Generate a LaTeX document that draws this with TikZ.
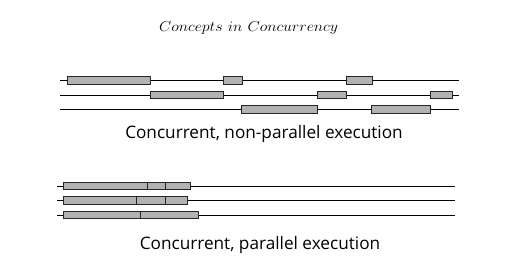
\documentclass[tikz,border=0pt]{standalone}
\usepackage{fontspec}
\usepackage{graphicx}
\newfontfamily\capfont{Open Sans}
\begin{document}
\begin{tikzpicture}[x=1pt,y=-1pt,
  track/.style={line width=0.8pt,black},
  blk/.style={draw=black!85,line width=0.8pt,fill=black!30,rectangle,inner sep=0pt,minimum height=7.6pt},
  caption/.style={font=\capfont\fontsize{17.2}{20}\selectfont,inner sep=0pt},
  title/.style={font=\fontsize{14.5}{16}\selectfont,inner sep=0pt}]
\useasboundingbox (0,0) rectangle (510,274);
\node[title] (t) at (248.7,27.5) {\scalebox{1.1}[1]{$Concepts\ in\ Concurrency$}};
% top section tracks
\coordinate (a1) at (60,80.3); \coordinate (a2) at (459,80.3);
\coordinate (b1) at (60,95); \coordinate (b2) at (459,95);
\coordinate (c1) at (60,109.3); \coordinate (c2) at (459,109.3);
\draw[track] (a1) -- (a2);
\draw[track] (b1) -- (b2);
\draw[track] (c1) -- (c2);
\node[blk,minimum width=83.4pt] (a1x) at (109,80.3) {};
\node[blk,minimum width=19pt] (a2x) at (232.5,80.3) {};
\node[blk,minimum width=26pt] (a3x) at (359.3,80.3) {};
\node[blk,minimum width=72.6pt] (b1x) at (187,95) {};
\node[blk,minimum width=29pt] (b2x) at (331.8,95) {};
\node[blk,minimum width=22pt] (b3x) at (441,95) {};
\node[blk,minimum width=76.4pt] (c1x) at (279.5,109.3) {};
\node[blk,minimum width=58.6pt] (c2x) at (401,109.3) {};
\node[caption] (cap1) at (264,134) {Concurrent, non-parallel execution};
% bottom section tracks
\coordinate (d1) at (57.3,186); \coordinate (d2) at (455.3,186);
\coordinate (e1) at (57.3,200.3); \coordinate (e2) at (455.3,200.3);
\coordinate (f1) at (57.3,215); \coordinate (f2) at (455.3,215);
\draw[track] (d1) -- (d2);
\draw[track] (e1) -- (e2);
\draw[track] (f1) -- (f2);
\node[blk,minimum width=84pt] (d1x) at (105.3,186) {};
\node[blk,minimum width=18.4pt] (d2x) at (156.5,186) {};
\node[blk,minimum width=25pt] (d3x) at (178.2,186) {};
\node[blk,minimum width=73pt] (e1x) at (99.8,200.3) {};
\node[blk,minimum width=29.4pt] (e2x) at (151,200.3) {};
\node[blk,minimum width=21.6pt] (e3x) at (176.5,200.3) {};
\node[blk,minimum width=76.7pt] (f1x) at (101.65,215) {};
\node[blk,minimum width=58.3pt] (f2x) at (169.15,215) {};
\node[caption] (cap2) at (260,245.5) {Concurrent, parallel execution};
\end{tikzpicture}
\end{document}
